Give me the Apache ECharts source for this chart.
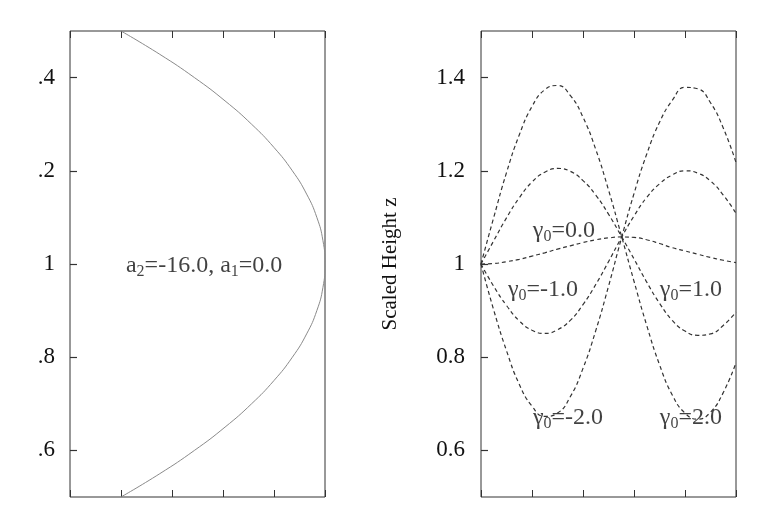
<!DOCTYPE html>
<html>
<head>
<meta charset="utf-8">
<script src="https://cdn.jsdelivr.net/npm/echarts@6/dist/echarts.min.js"></script>
<style>
html,body{margin:0;padding:0;background:#fff;}
#c{width:771px;height:526px;}
</style>
</head>
<body>
<div id="c"></div>
<script>
// ---- data ----
const leftZ = [0.5,0.55,0.6,0.65,0.7,0.75,0.8,0.85,0.9,0.95,1.0,1.05,1.1,1.15,1.2,1.25,1.3,1.35,1.4,1.45,1.5];
const leftX = [-3,-2.24,-1.56,-0.96,-0.44,0,0.36,0.64,0.84,0.96,1,0.96,0.84,0.64,0.36,0,-0.44,-0.96,-1.56,-2.24,-3];

const rightU = [0,0.05,0.1,0.15,0.2,0.25,0.3,0.35,0.4,0.45,0.5,0.55,0.6,0.65,0.7,0.75,0.8,0.85,0.9,0.95,1.0];
const zGamma0    = [1.0,1.001,1.005,1.010,1.017,1.024,1.032,1.039,1.046,1.052,1.056,1.058,1.057,1.052,1.044,1.035,1.028,1.021,1.014,1.008,1.003];
const zGammaPos2 = [1.0,1.100,1.196,1.277,1.338,1.374,1.383,1.362,1.315,1.246,1.159,1.062,0.963,0.868,0.784,0.719,0.680,0.667,0.682,0.724,0.788];
const zGammaNeg2 = [1.0,0.901,0.814,0.742,0.695,0.673,0.680,0.715,0.776,0.857,0.952,1.054,1.151,1.236,1.304,1.351,1.379,1.376,1.346,1.292,1.218];
const zGammaPos1 = [1.0,1.050,1.099,1.142,1.176,1.197,1.205,1.199,1.179,1.148,1.107,1.060,1.011,0.961,0.916,0.879,0.856,0.847,0.850,0.868,0.897];
const zGammaNeg1 = [1.0,0.952,0.911,0.878,0.858,0.851,0.859,0.879,0.913,0.956,1.005,1.056,1.103,1.143,1.172,1.191,1.200,1.195,1.178,1.148,1.109];

const yTickValues = [0.6,0.8,1.0,1.2,1.4];
const leftTickLabels = ['.6','.8','1','.2','.4'];
const rightTickLabels = ['0.6','0.8','1','1.2','1.4'];

const gammaValues = ['0.0','-1.0','1.0','-2.0','2.0'];
const gammaLabelU = [0.325,0.243,0.823,0.341,0.823];
const gammaLabelZ = [1.076,0.949,0.949,0.674,0.674];

const leftNote = {x: -1.37, z: 1.0, a2: '-16.0', a1: '0.0'};

// ---- chart ----
const FONT = 'Liberation Serif';
const TXT = '#111';
const AX = '#333';
const PANEL_W = 255;

function tickFmt(labels){
  return function(v){
    for (let i=0;i<yTickValues.length;i++){ if (Math.abs(yTickValues[i]-v)<1e-6) return labels[i]; }
    return '';
  };
}
const rich = {
  m: {fontFamily: FONT, fontSize: 24, color: TXT, lineHeight: 24, verticalAlign: 'top'},
  s: {fontFamily: FONT, fontSize: 16, color: TXT, lineHeight: 16, padding: [12,0,0,0]}
};

function xAx(grid, pos, min, max, interval){
  return {type:'value', gridIndex:grid, position:pos, min:min, max:max, interval:interval,
    axisLine:{show:false, onZero:false}, axisLabel:{show:false}, splitLine:{show:false},
    axisTick:{show:true, inside:true, length:7, lineStyle:{color:AX, width:1}}};
}
// tick-only y axis: a right-side axis shifted onto the left frame edge, ticks pointing into the plot
function yTickAx(grid){
  return {type:'value', gridIndex:grid, position:'right', offset:-PANEL_W, min:0.5, max:1.5,
    axisLine:{show:false, onZero:false}, splitLine:{show:false},
    axisTick:{show:true, inside:false, length:7, customValues:yTickValues, lineStyle:{color:AX, width:1.2}},
    axisLabel:{show:false, customValues:yTickValues}};
}
// label-only y axis
function yLabAx(grid, labels, margin, extra){
  return Object.assign({type:'value', gridIndex:grid, position:'left', offset:0, min:0.5, max:1.5,
    axisLine:{show:false, onZero:false}, splitLine:{show:false},
    axisTick:{show:false},
    axisLabel:{show:true, customValues: yTickValues, margin:margin, formatter: tickFmt(labels),
      fontFamily:FONT, fontSize:23, color:TXT}}, extra||{});
}

const dash = {color:'#333', width:1.2, type:[4,3]};
function gSeries(arr){
  return {type:'line', xAxisIndex:2, yAxisIndex:1, smooth:true, showSymbol:false, symbol:'none',
    lineStyle:dash, data: rightU.map((u,i)=>[u,arr[i]]), animation:false, silent:true};
}

const option = {
  animation:false,
  backgroundColor:'#fff',
  grid:[
    {left:70, right:446, top:31, bottom:29, show:true, borderColor:AX, borderWidth:1},
    {left:481, right:35, top:31, bottom:29, show:true, borderColor:AX, borderWidth:1}
  ],
  xAxis:[
    xAx(0,'bottom',-4,1,1),
    xAx(0,'top',-4,1,1),
    xAx(1,'bottom',0,1,0.2),
    xAx(1,'top',0,1,0.2)
  ],
  yAxis:[
    yLabAx(0,leftTickLabels,15),
    yLabAx(1,rightTickLabels,16,{name:'Scaled Height z', nameLocation:'middle', nameGap:80,
      nameTextStyle:{fontFamily:FONT, fontSize:21, color:TXT}}),
    yTickAx(0),
    yTickAx(1)
  ],
  series:[
    {type:'line', xAxisIndex:0, yAxisIndex:0, smooth:true, showSymbol:false, symbol:'none',
      lineStyle:{color:'#8a8a8a', width:1}, data: leftZ.map((z,i)=>[leftX[i], z])},
    gSeries(zGammaPos2), gSeries(zGammaPos1), gSeries(zGamma0), gSeries(zGammaNeg1), gSeries(zGammaNeg2),
    {type:'scatter', xAxisIndex:2, yAxisIndex:1, symbolSize:0.01, silent:true,
      data: gammaValues.map((v,i)=>({value:[gammaLabelU[i], gammaLabelZ[i]], name:v})),
      label:{show:true, position:'inside', offset:[0,2], rich:rich,
        formatter: p => '{m|γ}{s|0}{m|=' + p.name + '}'}},
    {type:'scatter', xAxisIndex:0, yAxisIndex:0, symbolSize:0.01, silent:true,
      data:[{value:[leftNote.x, leftNote.z], name:'n'}],
      label:{show:true, position:'inside', offset:[0,2], rich:rich,
        formatter: () => '{m|a}{s|2}{m|=' + leftNote.a2 + ', a}{s|1}{m|=' + leftNote.a1 + '}'}}
  ]
};
const chart = echarts.init(document.getElementById('c'), null, {renderer:'canvas'});
chart.setOption(option);
</script>
</body>
</html>
